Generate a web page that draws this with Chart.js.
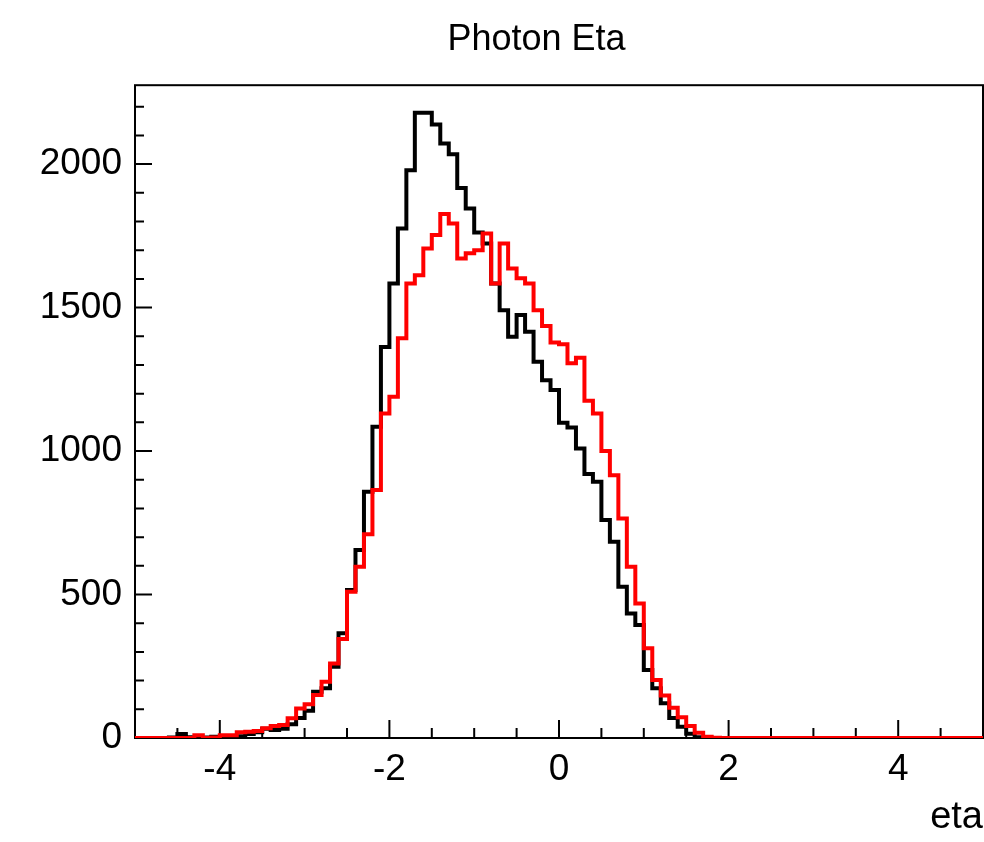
<!DOCTYPE html>
<html>
<head>
<meta charset="utf-8">
<title>Photon Eta</title>
<script src="https://cdn.jsdelivr.net/npm/chart.js@4/dist/chart.umd.min.js"></script>
<style>
  html, body { margin: 0; padding: 0; background: #fff; }
  #wrap { width: 984px; height: 842px; }
</style>
</head>
<body>
<div id="wrap"><canvas id="etaChart"></canvas></div>
<script>
// histogram binning: 100 bins from -5 to 5
const xMin = -5;
const xMax = 5;
const nBins = 100;
const xTickLabels = [-4, -2, 0, 2, 4];
const yTickLabels = [0, 500, 1000, 1500, 2000];

// bin contents, bin 0 = [-5, -4.9)
const blackCounts = [
  0, 0, 0, 0, 2, 14, 3, 0, 2, 4,
  4, 4, 6, 14, 20, 32, 28, 32, 48, 70,
  95, 161, 173, 248, 365, 516, 655, 858, 1085, 1363,
  1584, 1776, 1979, 2179, 2179, 2138, 2072, 2034, 1917, 1845,
  1762, 1723, 1584, 1491, 1398, 1474, 1416, 1311, 1247, 1213,
  1099, 1082, 1009, 920, 893, 760, 684, 527, 434, 394,
  237, 173, 121, 70, 39, 15, 3, 1, 0, 0,
  0, 0, 0, 0, 0, 0, 0, 0, 0, 0,
  0, 0, 0, 0, 0, 0, 0, 0, 0, 0,
  0, 0, 0, 0, 0, 0, 0, 0, 0, 0
];
const redCounts = [
  0, 0, 0, 0, 0, 0, 0, 10, 0, 2,
  10, 10, 20, 22, 24, 34, 42, 45, 69, 103,
  118, 150, 196, 260, 345, 510, 597, 710, 864, 1131,
  1189, 1393, 1584, 1613, 1706, 1753, 1826, 1793, 1671, 1689,
  1700, 1758, 1584, 1723, 1636, 1602, 1584, 1491, 1436, 1378,
  1372, 1306, 1325, 1175, 1131, 1000, 916, 765, 597, 469,
  313, 202, 148, 105, 72, 42, 18, 4, 1, 0,
  0, 0, 0, 0, 0, 0, 0, 0, 0, 0,
  0, 0, 0, 0, 0, 0, 0, 0, 0, 0,
  0, 0, 0, 0, 0, 0, 0, 0, 0, 0
];

const FONT = '"Liberation Sans", Arial, Helvetica, sans-serif';
const binWidth = (xMax - xMin) / nBins;

// one point per bin low edge + the last upper edge, drawn as steps
function toSteps(counts) {
  const pts = counts.map((c, i) => ({ x: xMin + i * binWidth, y: c }));
  pts.push({ x: xMax, y: counts[counts.length - 1] });
  return pts;
}

// ROOT style frame with ticks pointing inwards
const rootFrame = {
  id: 'rootFrame',
  afterLayout(chart) {
    // title is centred on the pad, not the canvas
    if (chart.titleBlock) chart.titleBlock.left = 90;
  },
  beforeDatasetsDraw(chart) {
    const { ctx, chartArea: a, scales: { x, y } } = chart;
    ctx.save();
    ctx.strokeStyle = '#000';
    ctx.lineWidth = 2;
    ctx.strokeRect(a.left, a.top, a.right - a.left, a.bottom - a.top);
    ctx.beginPath();
    for (let k = 0; k <= 20; k++) {
      const v = xMin + k * 0.5;
      const px = x.getPixelForValue(v);
      const len = Math.abs(v % 2) < 1e-9 ? 18 : 10;
      ctx.moveTo(px, a.bottom);
      ctx.lineTo(px, a.bottom - len);
    }
    for (let v = 0; v <= y.max; v += 100) {
      const py = y.getPixelForValue(v);
      const len = v % 500 === 0 ? 17 : 9;
      ctx.moveTo(a.left, py);
      ctx.lineTo(a.left + len, py);
    }
    ctx.stroke();
    ctx.restore();
  }
};

new Chart(document.getElementById('etaChart'), {
  type: 'line',
  data: {
    datasets: [
      {
        label: 'red',
        data: toSteps(redCounts),
        borderColor: '#ff0000',
        borderWidth: 4,
        stepped: 'before',
        pointRadius: 0,
        fill: false,
        order: 1
      },
      {
        label: 'black',
        data: toSteps(blackCounts),
        borderColor: '#000000',
        borderWidth: 4,
        stepped: 'before',
        pointRadius: 0,
        fill: false,
        order: 2
      }
    ]
  },
  options: {
    responsive: true,
    maintainAspectRatio: false,
    animation: false,
    layout: { padding: { left: 0, right: 1, top: 0, bottom: 0 } },
    plugins: {
      legend: { display: false },
      tooltip: { enabled: false },
      title: {
        display: true,
        text: 'Photon Eta',
        color: '#000',
        font: { family: FONT, size: 36, weight: 'normal' },
        padding: { top: 18, bottom: 24 }
      }
    },
    scales: {
      x: {
        type: 'linear',
        min: xMin,
        max: xMax,
        grid: { display: false, drawTicks: false },
        border: { display: false },
        afterBuildTicks: (s) => { s.ticks = xTickLabels.map((v) => ({ value: v })); },
        afterFit: (s) => { s.height = 104; },
        ticks: {
          color: '#000',
          font: { family: FONT, size: 37 },
          padding: 10,
          maxRotation: 0,
          autoSkip: false,
          callback: (v) => String(v)
        },
        title: {
          display: true,
          text: 'eta',
          align: 'end',
          color: '#000',
          font: { family: FONT, size: 38 },
          padding: { top: 0, bottom: 2 }
        }
      },
      y: {
        min: 0,
        max: 2275,
        grid: { display: false, drawTicks: false },
        border: { display: false },
        afterBuildTicks: (s) => { s.ticks = yTickLabels.map((v) => ({ value: v })); },
        afterFit: (s) => { s.width = 135; },
        ticks: {
          color: '#000',
          font: { family: FONT, size: 37 },
          padding: 13,
          autoSkip: false,
          callback: (v) => String(v)
        }
      }
    }
  },
  plugins: [rootFrame]
});
</script>
</body>
</html>
